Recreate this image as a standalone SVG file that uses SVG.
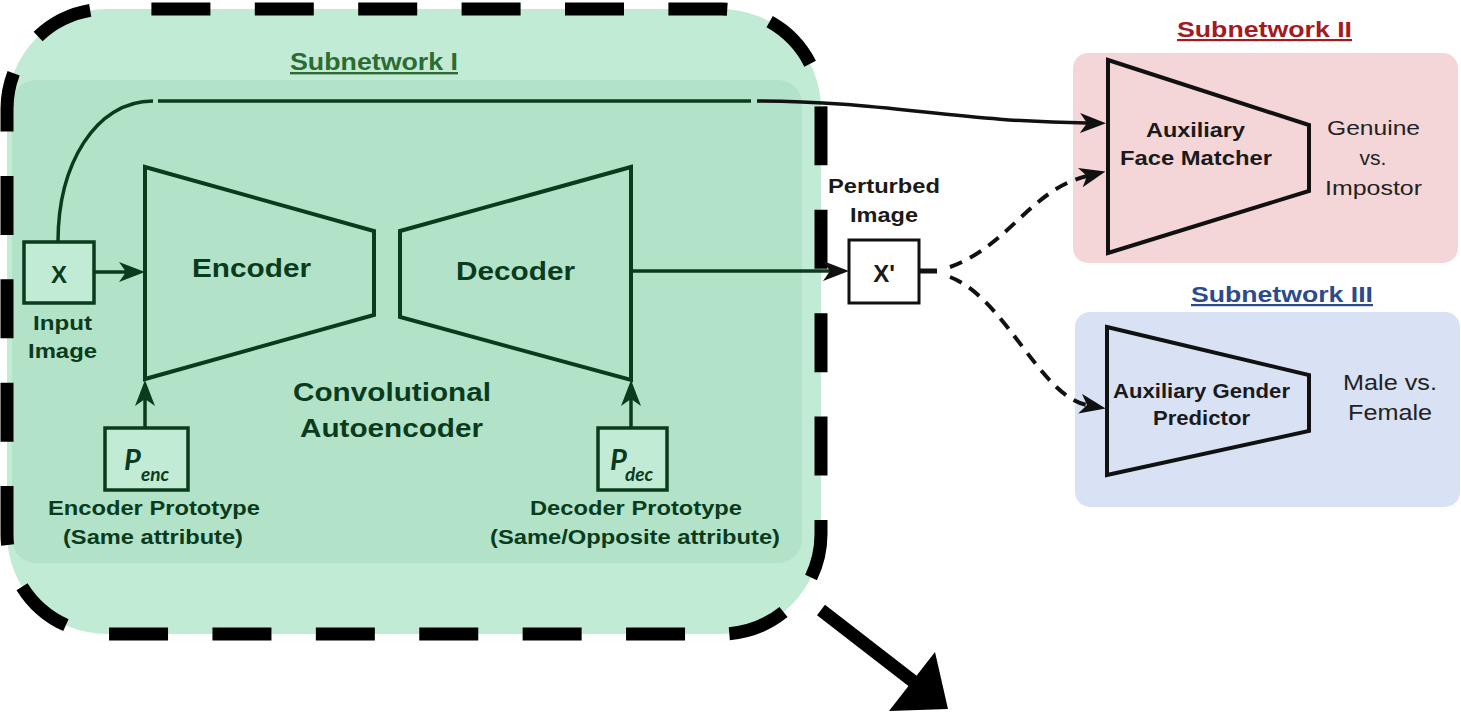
<svg xmlns="http://www.w3.org/2000/svg" width="1461" height="712" viewBox="0 0 1461 712">
  <style>
    .gb { font-family: "Liberation Sans", Arial, sans-serif; font-weight: bold; fill: #0b3b1d; }
    .kb { font-family: "Liberation Sans", Arial, sans-serif; font-weight: bold; fill: #1a1a1a; }
    .kr { font-family: "Liberation Sans", Arial, sans-serif; fill: #222222; }
    .title { font-family: "Liberation Sans", Arial, sans-serif; font-weight: bold; text-decoration: underline; }
    .proto { font-family: Lato, "Liberation Sans", sans-serif; font-weight: bold; font-style: italic; fill: #0b3b1d; }
    .gshape { fill: none; stroke: #0b3b1d; stroke-width: 4; stroke-linejoin: miter; }
    .kshape { fill: none; stroke: #111111; stroke-width: 4; stroke-linejoin: miter; }
    .gbox { fill: #c2ebd5; stroke: #0b3b1d; stroke-width: 3.5; }
    .gline { fill: none; stroke: #0b3b1d; stroke-width: 3.5; }
    .kline { fill: none; stroke: #111111; stroke-width: 3.5; }
    .kdash { fill: none; stroke: #111111; stroke-width: 4; stroke-dasharray: 13 9; }
  </style>
  <defs>
    <marker id="arrow-green" viewBox="0 0 26 20" refX="7" refY="10" markerWidth="26" markerHeight="20" markerUnits="userSpaceOnUse" orient="auto">
      <path d="M0,0 L26,10 L0,20 L7,10 Z" fill="#0b3b1d"/>
    </marker>
    <marker id="arrow-black" viewBox="0 0 26 20" refX="7" refY="10" markerWidth="26" markerHeight="20" markerUnits="userSpaceOnUse" orient="auto">
      <path d="M0,0 L26,10 L0,20 L7,10 Z" fill="#111111"/>
    </marker>
  </defs>

  <rect width="1461" height="712" fill="#ffffff"/>

  <!-- Subnetwork I container -->
  <g id="subnetwork-1">
    <path d="M107,9 H721 A100,100 0 0 1 821,109 V534 A100,100 0 0 1 721,634 H107 A100,100 0 0 1 7,534 V109 A100,100 0 0 1 107,9 Z" fill="#c2ebd5"/>
    <rect x="12" y="80" width="790" height="483" rx="24" fill="#b2e3c8"/>
    <path d="M107,9 H721 A100,100 0 0 1 821,109 V534 A100,100 0 0 1 721,634 H107 A100,100 0 0 1 7,534 V109 A100,100 0 0 1 107,9 Z" fill="none" stroke="#000000" stroke-width="13" stroke-dasharray="59 44.4" stroke-dashoffset="59"/>
    <text class="title" x="290" y="70" font-size="24" textLength="168" lengthAdjust="spacingAndGlyphs" fill="#2d6b33">Subnetwork I</text>
    <text class="gb" x="293" y="401" font-size="26" textLength="198" lengthAdjust="spacingAndGlyphs">Convolutional</text>
    <text class="gb" x="300" y="437" font-size="26" textLength="183" lengthAdjust="spacingAndGlyphs">Autoencoder</text>
  </g>

  <g id="input-x">
    <rect class="gbox" x="24" y="242" width="70" height="61"/>
    <text class="gb" x="59" y="283" font-size="24" text-anchor="middle">X</text>
    <text class="gb" x="33" y="330" font-size="20" textLength="59" lengthAdjust="spacingAndGlyphs">Input</text>
    <text class="gb" x="28" y="358" font-size="20" textLength="69" lengthAdjust="spacingAndGlyphs">Image</text>
  </g>

  <g id="encoder">
    <polygon class="gshape" points="145,167 374,231 374,315 145,379"/>
    <text class="gb" x="192" y="277" font-size="26" textLength="119" lengthAdjust="spacingAndGlyphs">Encoder</text>
  </g>

  <g id="decoder">
    <polygon class="gshape" points="400,231 631,167 631,380 400,317"/>
    <text class="gb" x="456" y="280" font-size="26" textLength="119" lengthAdjust="spacingAndGlyphs">Decoder</text>
  </g>

  <g id="p-enc">
    <rect class="gbox" x="105" y="428" width="83" height="62"/>
    <text class="proto" x="124" y="470" font-size="29">P</text>
    <text class="proto" x="141" y="481" font-size="19">enc</text>
    <text class="gb" x="48" y="515" font-size="20" textLength="212" lengthAdjust="spacingAndGlyphs">Encoder Prototype</text>
    <text class="gb" x="63" y="544" font-size="20" textLength="180" lengthAdjust="spacingAndGlyphs">(Same attribute)</text>
  </g>

  <g id="p-dec">
    <rect class="gbox" x="598" y="428" width="69" height="62"/>
    <text class="proto" x="610" y="470" font-size="29">P</text>
    <text class="proto" x="625" y="481" font-size="19">dec</text>
    <text class="gb" x="530" y="515" font-size="20" textLength="212" lengthAdjust="spacingAndGlyphs">Decoder Prototype</text>
    <text class="gb" x="490" y="544" font-size="20" textLength="290" lengthAdjust="spacingAndGlyphs">(Same/Opposite attribute)</text>
  </g>

  <g id="perturbed-x">
    <text class="kb" x="828" y="193" font-size="20" textLength="112" lengthAdjust="spacingAndGlyphs">Perturbed</text>
    <text class="kb" x="850" y="222" font-size="20" textLength="68" lengthAdjust="spacingAndGlyphs">Image</text>
    <rect x="849" y="240" width="70" height="63" fill="#ffffff" stroke="#111111" stroke-width="3"/>
    <text class="kb" x="884" y="282" font-size="24" text-anchor="middle">X'</text>
  </g>

  <g id="subnetwork-2">
    <text class="title" x="1177" y="37" font-size="22" textLength="175" lengthAdjust="spacingAndGlyphs" fill="#a31a1f">Subnetwork II</text>
    <rect x="1073" y="53" width="385" height="210" rx="15" fill="#f5d6d8"/>
    <g id="face-matcher">
      <polygon class="kshape" points="1108,60 1309,125 1309,191 1108,253"/>
      <text class="kb" x="1146" y="137" font-size="19.5" textLength="99" lengthAdjust="spacingAndGlyphs">Auxiliary</text>
      <text class="kb" x="1120" y="165" font-size="19.5" textLength="152" lengthAdjust="spacingAndGlyphs">Face Matcher</text>
    </g>
    <text class="kr" x="1327" y="135" font-size="21" textLength="93" lengthAdjust="spacingAndGlyphs">Genuine</text>
    <text class="kr" x="1373" y="165" font-size="21" text-anchor="middle">vs.</text>
    <text class="kr" x="1325" y="195" font-size="21" textLength="97" lengthAdjust="spacingAndGlyphs">Impostor</text>
  </g>

  <g id="subnetwork-3">
    <text class="title" x="1191" y="302" font-size="22" textLength="182" lengthAdjust="spacingAndGlyphs" fill="#2b4b8c">Subnetwork III</text>
    <rect x="1075" y="312" width="385" height="195" rx="15" fill="#d9e1f5"/>
    <g id="gender-predictor">
      <polygon class="kshape" points="1107,327 1309,375 1309,431 1107,475"/>
      <text class="kb" x="1113" y="398" font-size="19.5" textLength="177" lengthAdjust="spacingAndGlyphs">Auxiliary Gender</text>
      <text class="kb" x="1153" y="425" font-size="19.5" textLength="97" lengthAdjust="spacingAndGlyphs">Predictor</text>
    </g>
    <text class="kr" x="1343" y="390" font-size="22" textLength="94" lengthAdjust="spacingAndGlyphs">Male vs.</text>
    <text class="kr" x="1348" y="420" font-size="22" textLength="84" lengthAdjust="spacingAndGlyphs">Female</text>
  </g>

  <!-- Connectors -->
  <g id="connectors">
    <path class="gline" d="M58,242 C58,165 95,101 153,101"/>
    <path class="gline" d="M158,101 H751"/>
    <path class="kline" d="M757,101 C880,101 960,122 1087,123" marker-end="url(#arrow-black)"/>
    <path class="gline" d="M94,272 H126" marker-end="url(#arrow-green)"/>
    <path class="gline" d="M145,428 V399" marker-end="url(#arrow-green)"/>
    <path class="gline" d="M631,428 V399" marker-end="url(#arrow-green)"/>
    <path class="gline" d="M631,271 H830" marker-end="url(#arrow-black)"/>
    <path d="M919,271 H937" fill="none" stroke="#111111" stroke-width="5"/>
    <path class="kdash" d="M950,267 C1010,245 1030,190 1087,176" marker-end="url(#arrow-black)"/>
    <path class="kdash" d="M950,277 C1005,298 1040,396 1087,405" marker-end="url(#arrow-black)"/>
    <!-- outgoing arrow at the lower right -->
    <path d="M821,610 L914,682" fill="none" stroke="#000000" stroke-width="13"/>
    <polygon points="948,709 935,652 889,711" fill="#000000"/>
  </g>
</svg>
